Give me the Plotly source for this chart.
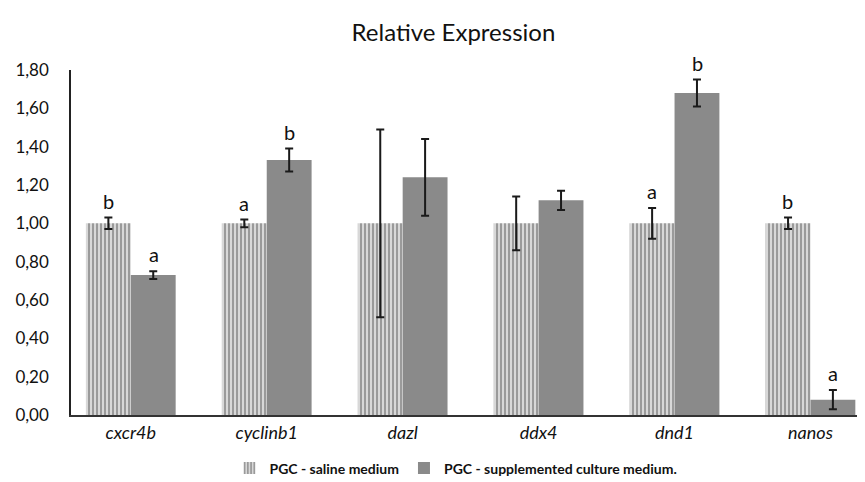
import plotly.graph_objects as go

genes = ["cxcr4b", "cyclinb1", "dazl", "ddx4", "dnd1", "nanos"]
saline = [1.00, 1.00, 1.00, 1.00, 1.00, 1.00]
saline_err = [0.03, 0.02, 0.49, 0.14, 0.08, 0.03]
supp = [0.73, 1.33, 1.24, 1.12, 1.68, 0.08]
supp_err = [0.02, 0.06, 0.20, 0.05, 0.07, 0.05]
saline_letters = ["b", "a", "", "", "a", "b"]
supp_letters = ["a", "b", "", "", "b", "a"]
ytick_vals = [0.0, 0.2, 0.4, 0.6, 0.8, 1.0, 1.2, 1.4, 1.6, 1.8]
ytick_text = ["0,00", "0,20", "0,40", "0,60", "0,80", "1,00", "1,20", "1,40", "1,60", "1,80"]

FONT = "Lato"

fig = go.Figure()
fig.add_trace(go.Bar(
    x=genes, y=saline, name="PGC - saline medium",
    marker=dict(color="#d8d8d8", line=dict(width=0),
                pattern=dict(shape="|", fgcolor="#5c5c5c", bgcolor="#d8d8d8", size=4, solidity=0.5)),
    error_y=dict(type="data", array=saline_err, color="#1a1a1a", thickness=2, width=4),
))
fig.add_trace(go.Bar(
    x=genes, y=supp, name="PGC - supplemented culture medium.",
    marker=dict(color="#8a8a8a", line=dict(width=0)),
    error_y=dict(type="data", array=supp_err, color="#1a1a1a", thickness=2, width=4),
))

for i, g in enumerate(genes):
    for off, val, err, letter in ((-0.167, saline[i], saline_err[i], saline_letters[i]),
                                  (0.167, supp[i], supp_err[i], supp_letters[i])):
        if letter:
            fig.add_annotation(x=i + off, y=val + err, xref="x", yref="y", text=letter,
                               showarrow=False, yanchor="bottom", yshift=3,
                               font=dict(family=FONT, size=20, color="#111"))

fig.update_layout(
    width=865, height=482,
    margin=dict(l=63, r=0, t=62, b=75),
    paper_bgcolor="white", plot_bgcolor="white",
    barmode="group", bargap=0.34, bargroupgap=0,
    title=dict(text="Relative Expression", x=0.515, xanchor="center", y=0.948, yanchor="middle",
               font=dict(family=FONT, size=24, color="#111")),
    showlegend=True,
    legend=dict(orientation="h", x=0.48, xanchor="center", y=-0.155, yanchor="middle",
                font=dict(family=FONT, size=14, color="#111", weight="bold"),
                itemwidth=30, traceorder="normal"),
    font=dict(family=FONT),
)
fig.update_xaxes(
    type="category", range=[-0.44, 5.46],
    tickvals=genes, ticktext=["<i>%s</i>" % g for g in genes],
    tickfont=dict(family=FONT, size=18, color="#111"),
    showline=True, linecolor="#333", linewidth=2, ticks="", showgrid=False,
    ticklabelstandoff=0,
)
fig.update_yaxes(
    range=[0, 1.8], tickvals=ytick_vals, ticktext=ytick_text,
    tickfont=dict(family=FONT, size=17, color="#111"),
    showline=True, linecolor="#222", linewidth=1.5, ticks="", showgrid=False, zeroline=False,
    ticklabelstandoff=17,
)

fig.write_html("out.html")
